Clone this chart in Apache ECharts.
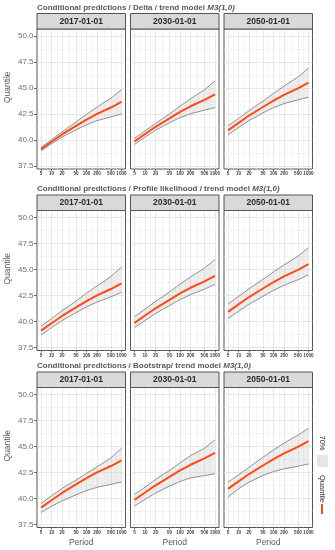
<!DOCTYPE html>
<html>
<head>
<meta charset="utf-8">
<script src="https://cdn.jsdelivr.net/npm/echarts@6/dist/echarts.min.js"></script>
<style>
html,body{margin:0;padding:0;background:#fff;}
#c{width:335px;height:550px;}
</style>
</head>
<body>
<div id="c"></div>
<script>
// ---------- data ----------
const periods = [5, 10, 20, 50, 100, 200, 500, 1000];
const xTickLabels = [5, 10, 20, 50, 100, 200, 500, 1000];
const xMinorBreaks = [7.07, 14.14, 31.62, 70.71, 141.42, 316.23, 707.11];
const yTickLabels = [37.5, 40, 42.5, 45, 47.5, 50];
const yMinorBreaks = [38.75, 41.25, 43.75, 46.25, 48.75];
const dates = ['2017-01-01', '2030-01-01', '2050-01-01'];
const methods = ['Delta', 'Profile likelihood', 'Bootstrap'];
const titlePrefixes = [
  'Conditional predictions / Delta / trend model ',
  'Conditional predictions / Profile likelihood / trend model ',
  'Conditional predictions / Bootstrap/ trend model '
];
const modelName = 'M3(1,0)';
const legendLabels = ['70%', 'Quantile'];
const xTitle = 'Period';
const yTitle = 'Quantile';

// quantile estimate per date
const quantile2017 = [39.13, 39.84, 40.54, 41.36, 41.97, 42.52, 43.13, 43.68];
const quantile2030 = [39.88, 40.58, 41.28, 42.09, 42.71, 43.25, 43.86, 44.40];
const quantile2050 = [40.94, 41.65, 42.36, 43.18, 43.80, 44.35, 44.97, 45.52];

// Delta
const deltaUpper2017 = [39.29, 40.03, 40.79, 41.73, 42.47, 43.17, 44.03, 44.85];
const deltaLower2017 = [38.97, 39.65, 40.29, 40.99, 41.47, 41.87, 42.23, 42.51];
const deltaUpper2030 = [40.18, 40.88, 41.61, 42.51, 43.26, 43.97, 44.84, 45.68];
const deltaLower2030 = [39.58, 40.28, 40.95, 41.67, 42.16, 42.53, 42.88, 43.12];
const deltaUpper2050 = [41.37, 42.09, 42.83, 43.74, 44.48, 45.19, 46.07, 46.92];
const deltaLower2050 = [40.51, 41.21, 41.89, 42.62, 43.12, 43.51, 43.87, 44.12];
// Profile likelihood
const profileUpper2017 = [39.55, 40.29, 41.04, 41.98, 42.72, 43.44, 44.33, 45.25];
const profileLower2017 = [38.72, 39.42, 40.10, 40.86, 41.41, 41.88, 42.38, 42.82];
const profileUpper2030 = [40.48, 41.20, 41.94, 42.85, 43.59, 44.29, 45.14, 45.97];
const profileLower2030 = [39.42, 40.10, 40.78, 41.54, 42.11, 42.59, 43.12, 43.58];
const profileUpper2050 = [41.70, 42.42, 43.16, 44.06, 44.78, 45.45, 46.29, 47.10];
const profileLower2050 = [40.30, 40.99, 41.67, 42.43, 43.00, 43.49, 44.02, 44.50];
// Bootstrap
const bootUpper2017 = [39.52, 40.27, 40.98, 41.78, 42.42, 43.05, 43.92, 44.81];
const bootLower2017 = [38.66, 39.26, 39.78, 40.36, 40.77, 41.08, 41.37, 41.59];
const bootUpper2030 = [40.40, 41.10, 41.83, 42.70, 43.43, 44.13, 44.83, 45.66];
const bootLower2030 = [39.29, 39.92, 40.53, 41.20, 41.65, 41.98, 42.22, 42.38];
const bootUpper2050 = [41.58, 42.28, 43.01, 43.97, 44.67, 45.34, 46.10, 46.75];
const bootLower2050 = [40.15, 40.94, 41.58, 42.22, 42.60, 42.86, 43.11, 43.33];

const quantiles = [quantile2017, quantile2030, quantile2050];
const uppers = [
  [deltaUpper2017, deltaUpper2030, deltaUpper2050],
  [profileUpper2017, profileUpper2030, profileUpper2050],
  [bootUpper2017, bootUpper2030, bootUpper2050]
];
const lowers = [
  [deltaLower2017, deltaLower2030, deltaLower2050],
  [profileLower2017, profileLower2030, profileLower2050],
  [bootLower2017, bootLower2030, bootLower2050]
];

// ---------- layout ----------
const panelLeft = [37, 130.5, 224];
const panelWidth = 88.5;
const rowTop = [29, 210.5, 387.5];
const panelHeight = 140;
const stripH = 15.5;
const titleCenterY = [8, 189, 366];
const yMin = 37.22, yMax = 50.68;
const xMin = 3.837, xMax = 1303;

const FONT = 'Liberation Sans, Arial, sans-serif';
const option = {
  animation: false,
  backgroundColor: '#ffffff',
  title: [], grid: [], xAxis: [], yAxis: [], series: [], graphic: []
};

function bandRenderItem(params, api) {
  if (params.dataIndexInside !== 0) return null;
  const n = params.dataInsideLength;
  const top = [], bottom = [];
  for (let k = 0; k < n; k++) {
    const x = api.value(0, k);
    top.push(api.coord([x, api.value(2, k)]));
    bottom.push(api.coord([x, api.value(1, k)]));
  }
  const pts = top.concat(bottom.reverse());
  return {
    type: 'polygon',
    shape: {points: pts},
    style: {fill: 'rgba(200,200,200,0.30)', stroke: null}
  };
}

for (let r = 0; r < 3; r++) {
  option.title.push({
    text: '{n|' + titlePrefixes[r] + '}{i|' + modelName + '}',
    left: 37, top: titleCenterY[r] - 5, padding: 0,
    textStyle: {
      rich: {
        n: {fontFamily: FONT, fontWeight: 'bold', fontSize: 8, color: '#595959', lineHeight: 10},
        i: {fontFamily: FONT, fontWeight: 'bold', fontStyle: 'italic', fontSize: 8, color: '#595959', lineHeight: 10}
      }
    }
  });
  for (let c = 0; c < 3; c++) {
    const gi = r * 3 + c;
    option.grid.push({
      left: panelLeft[c], top: rowTop[r], width: panelWidth, height: panelHeight,
      show: true, backgroundColor: '#ffffff', borderColor: '#555555', borderWidth: 1
    });
    option.xAxis.push({
      type: 'log', logBase: 10, gridIndex: gi, min: xMin, max: xMax,
      axisLine: {show: false},
      axisTick: {show: true, length: 2, customValues: xTickLabels, lineStyle: {color: '#444', width: 0.8}},
      axisLabel: {show: true, customValues: xTickLabels, fontSize: 4.6, fontWeight: 'bold', fontFamily: FONT,
        color: '#3a3a3a', margin: 2.5, formatter: v => String(Math.round(v))},
      splitLine: {show: true, lineStyle: {color: '#dedede', width: 0.7}}
    });
    option.xAxis.push({
      type: 'log', logBase: 10, gridIndex: gi, min: xMin, max: xMax,
      axisLine: {show: false},
      axisTick: {show: false, customValues: xMinorBreaks},
      axisLabel: {show: false, customValues: xMinorBreaks},
      splitLine: {show: true, lineStyle: {color: '#ededed', width: 0.6}}
    });
    option.yAxis.push({
      type: 'value', gridIndex: gi, min: yMin, max: yMax,
      axisLine: {show: false},
      axisTick: {show: c === 0, length: 3, customValues: yTickLabels, lineStyle: {color: '#444', width: 0.8}},
      axisLabel: {show: c === 0, customValues: yTickLabels, fontSize: 8, fontFamily: FONT, color: '#6e6e6e',
        margin: 3.5, formatter: v => v.toFixed(1)},
      splitLine: {show: true, lineStyle: {color: '#dedede', width: 0.7}}
    });
    option.yAxis.push({
      type: 'value', gridIndex: gi, min: yMin, max: yMax,
      axisLine: {show: false},
      axisTick: {show: false, customValues: yMinorBreaks},
      axisLabel: {show: false, customValues: yMinorBreaks},
      splitLine: {show: true, lineStyle: {color: '#ededed', width: 0.6}}
    });

    const up = uppers[r][c], lo = lowers[r][c], q = quantiles[c];
    const xi = gi * 2, yi = gi * 2;
    option.series.push({
      type: 'custom', xAxisIndex: xi, yAxisIndex: yi, silent: true, z: 1,
      renderItem: bandRenderItem,
      encode: {x: 0, y: [1, 2]},
      data: periods.map((p, k) => [p, lo[k], up[k]])
    });
    const common = {type: 'line', xAxisIndex: xi, yAxisIndex: yi, symbol: 'none', smooth: false, silent: true};
    option.series.push(Object.assign({}, common, {
      data: periods.map((p, k) => [p, up[k]]),
      lineStyle: {color: '#858585', width: 0.9}, z: 2
    }));
    option.series.push(Object.assign({}, common, {
      data: periods.map((p, k) => [p, lo[k]]),
      lineStyle: {color: '#858585', width: 0.9}, z: 2
    }));
    option.series.push(Object.assign({}, common, {
      data: periods.map((p, k) => [p, q[k]]),
      lineStyle: {color: '#ff4a12', width: 2}, z: 3
    }));

    option.graphic.push({
      type: 'rect', z: 10,
      shape: {x: panelLeft[c], y: rowTop[r] - stripH, width: panelWidth, height: stripH},
      style: {fill: '#d9d9d9', stroke: '#555555', lineWidth: 1}
    });
    option.graphic.push({
      type: 'text', z: 11,
      x: panelLeft[c] + panelWidth / 2, y: rowTop[r] - stripH / 2,
      style: {text: dates[c], fontSize: 8.5, fontWeight: 'bold', fontFamily: FONT, fill: '#2a2a2a',
        align: 'center', verticalAlign: 'middle'}
    });
  }
  option.graphic.push({
    type: 'text', z: 11, x: 8, y: rowTop[r] + (panelHeight - stripH) / 2 - 4, rotation: Math.PI / 2,
    style: {text: yTitle, fontSize: 8.5, fontFamily: FONT, fill: '#595959', align: 'center', verticalAlign: 'middle'}
  });
}
for (let c = 0; c < 3; c++) {
  option.graphic.push({
    type: 'text', z: 11, x: panelLeft[c] + panelWidth / 2, y: 543,
    style: {text: xTitle, fontSize: 8.5, fontFamily: FONT, fill: '#595959', align: 'center', verticalAlign: 'middle'}
  });
}
option.graphic.push({
  type: 'text', z: 11, x: 322, y: 443, rotation: -Math.PI / 2,
  style: {text: legendLabels[0], fontSize: 7.5, fontFamily: FONT, fill: '#333', align: 'center', verticalAlign: 'middle'}
});
option.graphic.push({
  type: 'rect', z: 10, shape: {x: 317, y: 455, width: 11, height: 12},
  style: {fill: '#e6e6e6'}
});
option.graphic.push({
  type: 'text', z: 11, x: 322, y: 489, rotation: -Math.PI / 2,
  style: {text: legendLabels[1], fontSize: 7.5, fontFamily: FONT, fill: '#333', align: 'center', verticalAlign: 'middle'}
});
option.graphic.push({
  type: 'line', z: 11, shape: {x1: 322, y1: 504, x2: 322, y2: 514},
  style: {stroke: '#ff4a12', lineWidth: 2}
});

const chart = echarts.init(document.getElementById('c'), null, {renderer: 'canvas'});
chart.setOption(option);
</script>
</body>
</html>
